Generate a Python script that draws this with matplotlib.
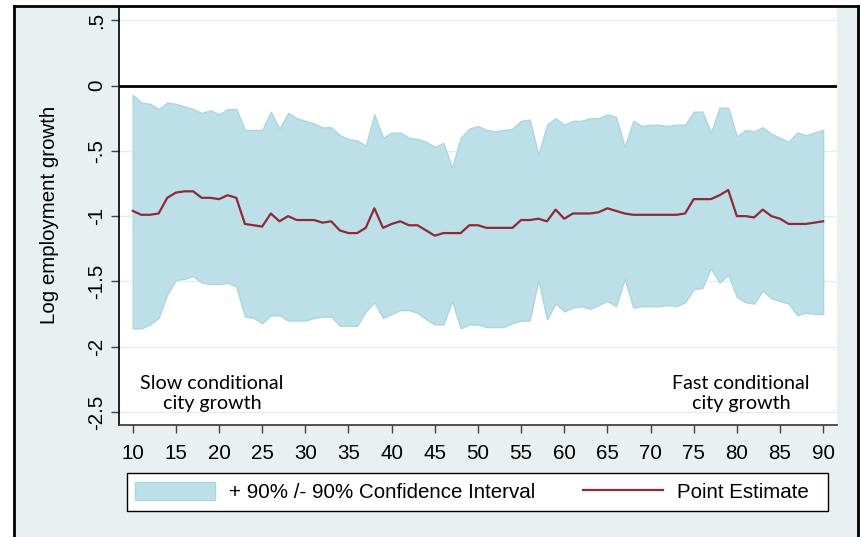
import matplotlib
matplotlib.use("Agg")
import matplotlib.pyplot as plt
from matplotlib.lines import Line2D
from matplotlib.patches import Patch
import numpy as np

# === Data ===
pctile = list(range(10, 91))

upper = [
    -0.07, -0.13, -0.14, -0.18, -0.13, -0.14, -0.16, -0.18, -0.21, -0.19,
    -0.22, -0.18, -0.18, -0.34, -0.34, -0.34, -0.20, -0.33, -0.21, -0.25,
    -0.27, -0.29, -0.32, -0.32, -0.38, -0.41, -0.42, -0.46, -0.22, -0.40,
    -0.36, -0.36, -0.40, -0.41, -0.43, -0.47, -0.44, -0.63, -0.40, -0.33,
    -0.31, -0.34, -0.35, -0.34, -0.33, -0.27, -0.26, -0.53, -0.30, -0.25,
    -0.30, -0.27, -0.27, -0.25, -0.25, -0.22, -0.24, -0.47, -0.27, -0.31,
    -0.30, -0.30, -0.31, -0.30, -0.30, -0.20, -0.20, -0.36, -0.17, -0.17,
    -0.39, -0.34, -0.35, -0.32, -0.37, -0.40, -0.43, -0.36, -0.38, -0.36,
    -0.34,
]

point = [
    -0.96, -0.99, -0.99, -0.98, -0.86, -0.82, -0.81, -0.81, -0.86, -0.86,
    -0.87, -0.84, -0.86, -1.06, -1.07, -1.08, -0.98, -1.04, -1.00, -1.03,
    -1.03, -1.03, -1.05, -1.04, -1.11, -1.13, -1.13, -1.09, -0.94, -1.09,
    -1.06, -1.04, -1.07, -1.07, -1.11, -1.15, -1.13, -1.13, -1.13, -1.07,
    -1.07, -1.09, -1.09, -1.09, -1.09, -1.03, -1.03, -1.02, -1.04, -0.95,
    -1.02, -0.98, -0.98, -0.98, -0.97, -0.94, -0.96, -0.98, -0.99, -0.99,
    -0.99, -0.99, -0.99, -0.99, -0.98, -0.87, -0.87, -0.87, -0.84, -0.80,
    -1.00, -1.00, -1.01, -0.95, -1.00, -1.02, -1.06, -1.06, -1.06, -1.05,
    -1.04,
]

lower = [
    -1.86, -1.86, -1.83, -1.78, -1.60, -1.49, -1.48, -1.46, -1.51, -1.52,
    -1.52, -1.51, -1.54, -1.77, -1.78, -1.82, -1.76, -1.76, -1.80, -1.80,
    -1.80, -1.78, -1.77, -1.77, -1.84, -1.84, -1.84, -1.73, -1.66, -1.78,
    -1.75, -1.72, -1.72, -1.74, -1.79, -1.83, -1.83, -1.65, -1.86, -1.83,
    -1.83, -1.85, -1.85, -1.85, -1.82, -1.80, -1.80, -1.49, -1.79, -1.67,
    -1.73, -1.70, -1.69, -1.71, -1.68, -1.65, -1.69, -1.48, -1.70, -1.69,
    -1.69, -1.69, -1.68, -1.69, -1.66, -1.56, -1.55, -1.40, -1.51, -1.45,
    -1.62, -1.66, -1.67, -1.57, -1.63, -1.65, -1.67, -1.76, -1.74, -1.75,
    -1.75,
]

xticks = list(range(10, 95, 5))
yticks = [0.5, 0, -0.5, -1, -1.5, -2, -2.5]
ytick_labels = [".5", "0", "-.5", "-1", "-1.5", "-2", "-2.5"]

band_color = "#bddfe8"
line_color = "#8c2b36"
bg_color = "#e8f0f2"
FS = 14.8

W, H = 862, 537
fig = plt.figure(figsize=(W / 100, H / 100), dpi=100)
fig.patch.set_facecolor("white")

# light panel behind everything, with black frame (screenshot border)
fig.patches.append(plt.Rectangle((14.5 / W, 0), (858 - 14.5) / W, 1 - 6 / H,
                                 transform=fig.transFigure, facecolor=bg_color,
                                 edgecolor="none", zorder=-2))
for xs, ys in [([14.5, 14.5], [0, H - 6]), ([14.5, 858], [H - 6, H - 6]),
               ([858, 858], [0, H - 6])]:
    fig.lines.append(Line2D(np.array(xs) / W, np.array(ys) / H, transform=fig.transFigure,
                            color="black", lw=2, zorder=5))

ax = fig.add_axes([119 / W, 1 - 425 / H, (836.7 - 119) / W, (425 - 8) / H])
ax.set_facecolor("white")

ax.fill_between(pctile, lower, upper, facecolor=band_color, edgecolor="#acd6e2",
                lw=1, zorder=2)
ax.plot(pctile, point, color=line_color, lw=1.6, zorder=3)
ax.axhline(0, color="black", lw=2, zorder=4)

ax.set_xlim(8.41, 91.57)
ax.set_ylim(-2.60, 0.594)

ax.set_xticks(xticks)
ax.set_yticks(yticks)
ax.set_yticklabels(ytick_labels, rotation=90, va="center")
ax.tick_params(axis="both", direction="out", length=6, width=1, color="#444444",
               labelsize=FS, labelcolor="black")
ax.tick_params(axis="x", pad=7.5)
ax.tick_params(axis="y", pad=3)
for lab in ax.get_xticklabels() + ax.get_yticklabels():
    lab.set_family("Liberation Sans")

ax.grid(axis="y", color="#e3eef0", lw=1, zorder=0)
ax.set_axisbelow(True)

for side in ["top", "right"]:
    ax.spines[side].set_visible(False)
ax.spines["left"].set_color("black")
ax.spines["bottom"].set_color("#333333")
ax.spines["left"].set_linewidth(1.2)
ax.spines["bottom"].set_linewidth(1.2)

ax.set_ylabel("Log employment growth", fontsize=FS, family="Liberation Sans")
ax.yaxis.set_label_coords(-0.084, 0.504)

ax.text(19.2, -2.36, "Slow conditional\ncity growth", ha="center", va="center",
        fontsize=14.2, family="Lato", linespacing=1.2)
ax.text(80.5, -2.36, "Fast conditional\ncity growth", ha="center", va="center",
        fontsize=14.2, family="Lato", linespacing=1.2)

# legend: content without frame, box drawn separately
fig.patches.append(plt.Rectangle((127 / W, 1 - 511 / H), (828 - 127) / W, (511 - 473) / H,
                                 transform=fig.transFigure, facecolor="white",
                                 edgecolor="black", lw=1, zorder=1))
handles = [Patch(facecolor=band_color, edgecolor="#acd6e2"),
           Line2D([0], [0], color=line_color, lw=1.6)]
labels = ["+ 90% /- 90% Confidence Interval", "Point Estimate"]
leg = fig.legend(handles, labels, loc="center left",
                 bbox_to_anchor=(135 / W, 1 - 492 / H),
                 ncol=2, frameon=False,
                 prop={"family": "Liberation Sans", "size": FS},
                 handlelength=3.9, handleheight=1.0, handletextpad=0.68,
                 columnspacing=2.3, borderpad=0, borderaxespad=0)
leg.set_zorder(2)

fig.savefig("out.png", dpi=100)
